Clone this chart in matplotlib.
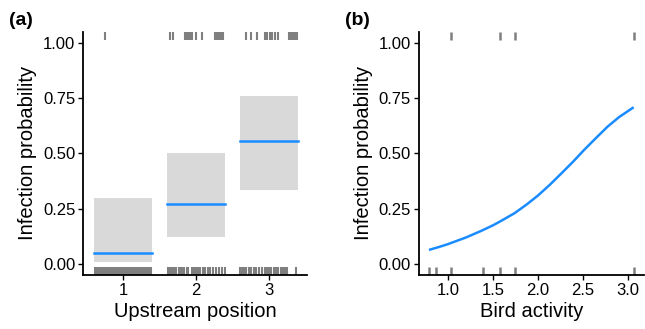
import matplotlib
matplotlib.use("Agg")
from matplotlib import pyplot as plt

plt.rcParams['font.family'] = ['Liberation Sans', 'DejaVu Sans']

# panel (a): upstream position, fitted probability and interval
pos = [1, 2, 3]
fit_a = [0.05, 0.27, 0.555]
lo_a = [0.01, 0.12, 0.335]
hi_a = [0.30, 0.50, 0.76]

# observed (jittered) positions for infected (1) and uninfected (0) birds
rug_a_1 = [0.75, 1.65, 1.68, 1.85, 1.87, 1.89, 1.92, 1.95, 2.00, 2.08,
           2.26, 2.29, 2.31, 2.34, 2.37, 2.69, 2.75, 2.84, 2.95, 2.98,
           3.01, 3.04, 3.08, 3.12, 3.27, 3.30, 3.33, 3.36, 3.38]
rug_a_0 = [0.62, 0.64, 0.66, 0.68, 0.70, 0.73, 0.75, 0.77, 0.79, 0.81,
           0.83, 0.86, 0.88, 0.90, 0.92, 0.94, 0.97, 0.99, 1.01, 1.03,
           1.05, 1.08, 1.10, 1.12, 1.14, 1.16, 1.19, 1.21, 1.23, 1.25,
           1.27, 1.30, 1.32, 1.34, 1.36, 1.38,
           1.61, 1.63, 1.66, 1.68, 1.71, 1.73, 1.76, 1.78, 1.81, 1.84,
           1.87, 1.89, 1.94, 1.97, 2.00, 2.03, 2.06, 2.09, 2.12, 2.16,
           2.19, 2.23, 2.27, 2.31, 2.35, 2.40,
           2.60, 2.63, 2.66, 2.69, 2.72, 2.75, 2.79, 2.82, 2.86, 2.90,
           2.94, 2.97, 3.00, 3.03, 3.07, 3.10, 3.13, 3.16, 3.19, 3.22,
           3.25, 3.37]

# panel (b): bird activity curve
bird_x = [0.80, 0.90, 1.00, 1.20, 1.37, 1.50, 1.59, 1.74, 1.87, 2.00,
          2.13, 2.26, 2.39, 2.51, 2.64, 2.77, 2.90, 3.05]
bird_p = [0.065, 0.077, 0.09, 0.12, 0.15, 0.175, 0.195, 0.23, 0.268, 0.31,
          0.358, 0.41, 0.463, 0.515, 0.568, 0.62, 0.664, 0.705]
rug_b_1 = [1.03, 1.575, 1.74, 3.06]
rug_b_0 = [0.785, 0.867, 1.03, 1.387, 1.575, 1.74, 3.06]

blue = "#1a8cff"
rug_col = "#7f7f7f"

fig = plt.figure(figsize=(6.45, 3.29), dpi=100)
ax1 = fig.add_axes([0.1287, 0.164, 0.347, 0.740])
ax2 = fig.add_axes([0.649, 0.164, 0.350, 0.740])


def style(ax):
    for s in ["top", "right"]:
        ax.spines[s].set_visible(False)
    for s in ["left", "bottom"]:
        ax.spines[s].set_linewidth(1.3)
    ax.tick_params(direction="out", length=3.5, width=1.0, labelsize=12,
                   colors="black", pad=2)
    ax.set_ylim(-0.05, 1.05)
    ax.set_yticks([0, 0.25, 0.5, 0.75, 1.0])
    ax.set_yticklabels(["0.00", "0.25", "0.50", "0.75", "1.00"])
    ax.set_ylabel("Infection probability", fontsize=14.5, labelpad=4)


def rug(ax, xs, top, lw):
    tr = ax.get_xaxis_transform()
    for x in xs:
        if top:
            ax.plot([x, x], [0.965, 1.0], transform=tr, color=rug_col,
                    lw=lw, solid_capstyle="butt", clip_on=False)
        else:
            ax.plot([x, x], [0.0, 0.035], transform=tr, color=rug_col,
                    lw=lw, solid_capstyle="butt", clip_on=False)


# (a)
style(ax1)
for p, f, lo, hi in zip(pos, fit_a, lo_a, hi_a):
    ax1.fill_between([p - 0.4, p + 0.4], lo, hi, color="#d9d9d9", lw=0)
    ax1.plot([p - 0.4, p + 0.4], [f, f], color=blue, lw=1.8)
rug(ax1, rug_a_1, True, 1.5)
rug(ax1, rug_a_0, False, 1.5)
ax1.set_xlim(0.45, 3.52)
ax1.set_xticks(pos)
ax1.set_xlabel("Upstream position", fontsize=14.5, labelpad=3)

# (b)
style(ax2)
ax2.plot(bird_x, bird_p, color=blue, lw=1.8)
rug(ax2, rug_b_1, True, 1.8)
rug(ax2, rug_b_0, False, 1.8)
ax2.set_xlim(0.672, 3.18)
ax2.set_xticks([1.0, 1.5, 2.0, 2.5, 3.0])
ax2.set_xlabel("Bird activity", fontsize=14.5, labelpad=3)

fig.text(0.014, 0.925, "(a)", fontsize=14, fontweight="bold")
fig.text(0.535, 0.925, "(b)", fontsize=14, fontweight="bold")

fig.savefig("out.png", dpi=100)
